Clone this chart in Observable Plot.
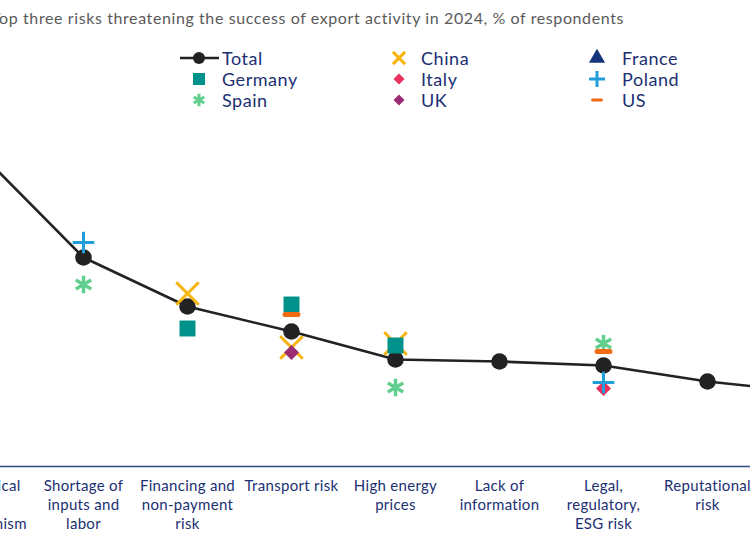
<!DOCTYPE html>
<html>
<head>
<meta charset="utf-8">
<script src="https://cdn.jsdelivr.net/npm/d3@7"></script>
<script src="https://cdn.jsdelivr.net/npm/@observablehq/plot@0.6"></script>
<style>
  html, body { margin: 0; padding: 0; background: #fff; }
  body { width: 750px; height: 536px; overflow: hidden; position: relative; font-family: Lato, "DejaVu Sans", sans-serif; }
  #title { position: absolute; left: -9px; top: 8px; font-size: 16px; letter-spacing: 0.6px; color: #5a5a5a; white-space: nowrap; }
  .lg { position: absolute; font-size: 18px; letter-spacing: 0.55px; color: #1b2f72; white-space: nowrap; line-height: 1; }
  .sym { position: absolute; }
  #chart { position: absolute; left: -74px; top: 120px; width: 938px; }
  #chart svg { max-width: none !important; }
  #chart svg text { letter-spacing: 0.3px; }
</style>
</head>
<body>
<div id="title">Top three risks threatening the success of export activity in 2024, % of respondents</div>
<div id="legend"></div>
<div id="chart"></div>
<script>
// ---- data ----
const categories = [
  "Geopolitical and protectionism",
  "Shortage of inputs and labor",
  "Financing and non-payment risk",
  "Transport risk",
  "High energy prices",
  "Lack of information",
  "Legal, regulatory, ESG risk",
  "Reputational risk",
  "Other"
];
const tickLabels = [
  "Geopolitical\nand\nprotectionism",
  "Shortage of\ninputs and\nlabor",
  "Financing and\nnon-payment\nrisk",
  "Transport risk",
  "High energy\nprices",
  "Lack of\ninformation",
  "Legal,\nregulatory,\nESG risk",
  "Reputational\nrisk",
  "Other"
];
const total   = [31.4, 20.9, 16.0, 13.5, 10.7, 10.5, 10.1, 8.5, 7.4];
const germany = [null, null, 13.8, 16.2, 12.1, null, null, null, null];
const china   = [null, null, 17.3, 11.9, 12.3, null, null, null, null];
const france  = [null, null, null, null, null, null, null, null, null];
const italy   = [null, null, null, null, null, null, 7.8, null, null];
const poland  = [null, 22.4, null, null, null, null, 8.4, null, null];
const spain   = [null, 18.2, null, null, 7.9, null, 12.3, null, null];
const uk      = [null, null, null, 11.4, null, null, null, null, null];
const us      = [null, null, null, 15.2, null, null, 11.5, null, null];

// ---- styles ----
const NAVY = "#1b2f72";
const dashSymbol = { draw(ctx, size) { const w = Math.sqrt(size) / 2; ctx.moveTo(-w, 0); ctx.lineTo(w, 0); } };
const styles = {
  China:   {symbol: "times",    stroke: "#f8b40e", fill: "none", r: 10.3, strokeWidth: 3},
  Germany: {symbol: "square",   fill: "#00918b", stroke: "none", r: 9.0},
  Italy:   {symbol: "square",   fill: "#e8305c", stroke: "none", r: 6.0, rotate: 45},
  UK:      {symbol: "square",   fill: "#9c2d72", stroke: "none", r: 6.0, rotate: 45},
  Spain:   {symbol: "asterisk", stroke: "#62cf8e", fill: "none", r: 8.4, strokeWidth: 3.5},
  Poland:  {symbol: "plus",     stroke: "#1f9ed9", fill: "none", r: 7.0, strokeWidth: 3},
  US:      {symbol: dashSymbol, stroke: "#f26b12", fill: "none", r: 7.3, strokeWidth: 5, strokeLinecap: "round"},
  France:  {symbol: "triangle", fill: "#143579", stroke: "none", r: 7}
};
const seriesData = {China: china, Germany: germany, Italy: italy, UK: uk, Spain: spain, Poland: poland, US: us, France: france};
const drawOrder = ["China", "Germany", "UK", "Italy", "Spain", "Poland", "US", "France"];

const rows = (vals) => categories.map((c, i) => ({cat: c, value: vals[i]})).filter(d => d.value != null);
const totalRows = rows(total);
const labelOf = new Map(categories.map((c, i) => [c, tickLabels[i]]));

const marks = [
  Plot.ruleY([0], {stroke: "#2c4a86", strokeWidth: 1.6}),
  Plot.axisX({tickSize: 0, tickPadding: 11, fontSize: 15, lineHeight: 1.27, fill: NAVY, tickFormat: d => labelOf.get(d), fontFamily: "Lato"}),
  Plot.line(totalRows, {x: "cat", y: "value", stroke: "#222", strokeWidth: 2.6}),
  Plot.dot(totalRows, {x: "cat", y: "value", r: 8.3, fill: "#222", stroke: "none"})
];
for (const name of drawOrder) {
  const s = styles[name];
  marks.push(Plot.dot(rows(seriesData[name]), {x: "cat", y: "value", ...s}));
}

const chart = Plot.plot({
  width: 938,
  height: 416,
  marginLeft: 0, marginRight: 0, marginTop: 46, marginBottom: 70,
  style: {background: "transparent", overflow: "visible"},
  x: {type: "point", domain: categories, padding: 0.5, label: null},
  y: {domain: [0, 30], axis: null},
  marks
});
document.getElementById("chart").appendChild(chart);

// ---- legend (HTML) ----
const legendLayout = [
  ["Total", 0, 0], ["Germany", 0, 1], ["Spain", 0, 2],
  ["China", 1, 0], ["Italy", 1, 1], ["UK", 1, 2],
  ["France", 2, 0], ["Poland", 2, 1], ["US", 2, 2]
];
const colSym = [199, 399, 597], colText = [222, 421, 622], rowY = [58, 79, 100];
const legendSizes = {China: 5.6, Germany: 6.8, Italy: 4.4, UK: 4.4, Spain: 5.8, Poland: 5.2, US: 5.0, France: 6.0};
const lg = d3.select("#legend");
for (const [name, c, r] of legendLayout) {
  const svg = lg.append("svg").attr("class", "sym")
    .attr("width", 50).attr("height", 24)
    .style("left", (colSym[c] - 25) + "px").style("top", (rowY[r] - 12) + "px");
  const g = svg.append("g").attr("transform", "translate(25,12)");
  if (name === "Total") {
    g.append("line").attr("x1", -19).attr("x2", 20).attr("stroke", "#222").attr("stroke-width", 2.6);
    g.append("circle").attr("r", 6).attr("fill", "#222");
  } else {
    const s = styles[name];
    const symType = typeof s.symbol === "string" ? {times: d3.symbolTimes, square: d3.symbolSquare, asterisk: d3.symbolAsterisk, plus: d3.symbolPlus, triangle: d3.symbolTriangle}[s.symbol] : s.symbol;
    const rr = legendSizes[name];
    const path = d3.symbol(symType, Math.PI * rr * rr)();
    const p = g.append("path").attr("d", path)
      .attr("fill", s.fill).attr("stroke", s.stroke)
      .attr("stroke-width", s.strokeWidth ? Math.min(s.strokeWidth, 3) : null)
      .attr("stroke-linecap", s.strokeLinecap || null);
    if (s.rotate) p.attr("transform", `rotate(${s.rotate})`);
  }
  lg.append("div").attr("class", "lg").text(name)
    .style("left", colText[c] + "px").style("top", (rowY[r] - 9) + "px");
}
</script>
</body>
</html>
